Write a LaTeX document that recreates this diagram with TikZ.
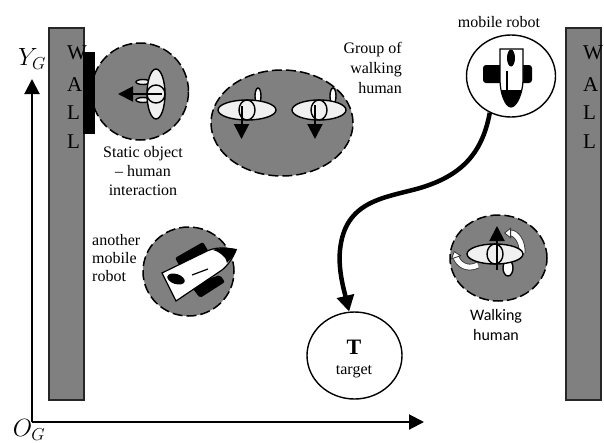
\documentclass[tikz,border=0pt]{standalone}
\usepackage{fontspec}
\setmainfont{Liberation Serif}
\newfontfamily\calfont{Carlito}
\usetikzlibrary{arrows.meta,shapes.geometric}
\newcommand{\axissub}{\mbox{\fontsize{17}{17}\selectfont$G$}}
\begin{document}
\begin{tikzpicture}[x=1pt,y=-1pt,
wall/.style={fill=gray,draw=black!85,line width=1.3pt},
zone/.style={ellipse,fill=gray,draw=black,line width=1.5pt,dash pattern=on 10pt off 4pt,inner sep=0pt},
plain/.style={ellipse,fill=white,draw=black,line width=1.4pt,inner sep=0pt},
part/.style={fill=black!6,draw=black,line width=1.4pt},
label/.style={font=\fontsize{16}{17}\selectfont,inner sep=0pt},
heading/.style={line width=2pt,-{Triangle[length=15pt,width=15pt]}},
turn/.style={double=white,double distance=5pt,line width=0.8pt,draw=black!80,-{Triangle[length=7pt,width=11pt,fill=white]}}]
\useasboundingbox (0,0) rectangle (604,442);

% walls
\filldraw [wall] (49,28) rectangle (84,400);
\filldraw [wall] (566,28) rectangle (601,400);
\foreach \ypos/\letter in {53/W,85/A,113/L,142/L}{
\node[label,anchor=west,font=\fontsize{21}{21}\selectfont] (left\ypos) at (67,\ypos) {\letter};
\node[label,anchor=west,font=\fontsize{21}{21}\selectfont] (right\ypos) at (583,\ypos) {\letter};
}

% axes
\coordinate (origin) at (32,422);
\coordinate (xend) at (424,422);
\coordinate (yend) at (32,79);
\draw[heading] (origin)--(xend);
\draw[heading] (origin)--(yend);
\node[inner sep=0pt,font=\fontsize{28}{28}\selectfont] (ylabel) at (32,59) {$Y_{\axissub}$};
\node[inner sep=0pt,font=\fontsize{28}{28}\selectfont] (olabel) at (29,430) {$O_{\axissub}$};

% static object and human
\node[zone,minimum width=97pt,minimum height=97pt] (staticzone) at (140,91.5) {};
\fill (83,52) rectangle (95,134);
\filldraw [part] (143,82) ellipse (7 and 2.5);
\filldraw [part] (143,100) ellipse (7 and 2.5);
\filldraw [part] (156,94) ellipse (9 and 25);
\draw [line width=1.4pt] (156,94) ellipse (9 and 9);
\draw[heading] (162,94)--(118,94);
\node[label,align=center] (statictext) at (143,171) {Static object\\[2pt]– human\\[2pt]interaction};

% group of walking humans
\node[zone,minimum width=142pt,minimum height=106pt] (groupzone) at (282,123) {};
\filldraw [part,fill=white] (258,96) ellipse (3 and 8);
\filldraw [part,fill=white] (333,96) ellipse (3 and 8);
\filldraw [part] (247,110) ellipse (29 and 10);
\filldraw [part] (319,110) ellipse (27 and 10);
\draw [line width=1.4pt] (247,110) ellipse (8 and 10);
\draw [line width=1.4pt] (319,110) ellipse (8 and 10);
\draw[heading] (241.5,106)--(241.5,139);
\draw[heading] (315,105)--(315,139);
\node[label,align=right,anchor=east] (grouptext) at (402,68) {Group of\\[3pt]walking\\[3pt]human};

% mobile robot
\node[plain,minimum width=89pt,minimum height=82pt] (mobilerobot) at (511,76) {};
\fill [rounded corners=3pt] (483,65) rectangle (532,83);
\filldraw [fill=white,draw=black,line width=1.2pt] (500,49)--(523,49)--(523,80) .. controls (523,92) and (517,107) .. (511,107) .. controls (505,107) and (500,92) .. (500,80)--cycle;
\fill (511,58) ellipse (4 and 8.5);
\begin{scope}
\clip (500,90) rectangle (523,108);
\fill (500,80) .. controls (500,92) and (505,107) .. (511,107) .. controls (517,107) and (523,92) .. (523,80)--cycle;
\end{scope}
\draw [line width=1.2pt] (507,71)--(507,90);
\node[label] (robottext) at (499,22) {mobile robot};

% target and way to it
\node[plain,minimum width=95pt,minimum height=87pt] (target) at (354.5,355.5) {};
\node[inner sep=0pt,font=\fontsize{22}{22}\bfseries\selectfont] (targetletter) at (354,347) {T};
\node[label] (targettext) at (354,372) {target};
\coordinate (bendone) at (420,188);
\coordinate (bendtwo) at (340,250);
\draw[line width=4.5pt,-{Triangle[length=16pt,width=17pt]}] (mobilerobot.240) .. controls (482,155) and (460,176) .. (bendone) .. controls (385,198) and (345,200) .. (bendtwo) .. controls (338,270) and (344,290) .. (target.97);

% walking human
\node[zone,minimum width=97pt,minimum height=86pt] (walkzone) at (498.5,258) {};
\filldraw [part,fill=white] (508,268) ellipse (5 and 8);
\draw[turn] (478,265) .. controls (466,271) and (458,263) .. (454,251);
\draw[turn] (522,253) .. controls (523,242) and (516,233) .. (504,233);
\filldraw [part] (495,254) ellipse (28 and 10);
\draw [line width=1.4pt] (495,254) ellipse (8 and 10);
\draw[heading] (497,270)--(497,226);
\node[inner sep=0pt,align=center,font=\fontsize{16}{20}\calfont\selectfont] (walktext) at (496,325) {Walking\\human};

% another mobile robot
\node[zone,minimum width=91pt,minimum height=89pt] (otherzone) at (188.5,271.5) {};
\fill [rounded corners=2pt] (175,258)--(203,242)--(210,254)--(182,270)--cycle;
\fill [rounded corners=2pt] (190,285)--(220,275)--(225,282)--(200,298)--cycle;
\filldraw [fill=white,draw=black,line width=1.2pt] (162,273)--(176,301)--(222,270) .. controls (228,265) and (233,258) .. (236,250) .. controls (226,247) and (214,247) .. (205,252)--cycle;
\fill (213,250) .. controls (221,247) and (229,248) .. (237,249) .. controls (235,254) and (232,258) .. (227,263) .. controls (227,258) and (220,252) .. (213,250)--cycle;
\fill [rotate around={-18:(176,279)}] (176,279) ellipse (9 and 5);
\draw [line width=1.2pt] (192,275)--(208,269);
\node[label,align=left,anchor=west] (othertext) at (92,258) {another\\[1pt]mobile\\[1pt]robot};

\end{tikzpicture}
\end{document}
